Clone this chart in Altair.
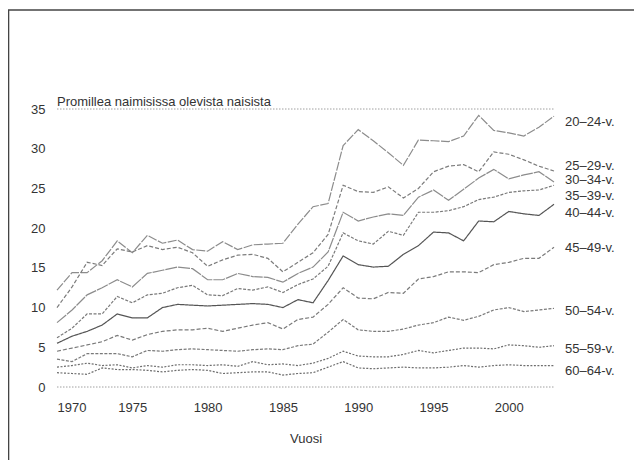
import altair as alt
import pandas as pd

FONT = "Liberation Sans"
TEXT = "#333333"

years = list(range(1970, 2004))

series_names = ["20–24-v.", "25–29-v.", "30–34-v.", "35–39-v.", "40–44-v.",
                "45–49-v.", "50–54-v.", "55–59-v.", "60–64-v."]

s20 = [12.2, 14.4, 14.4, 15.9, 18.4, 16.9, 19.1, 18.1, 18.5, 17.3, 17.1, 18.3, 17.3, 17.9, 18.0, 18.1, 20.5, 22.7, 23.1,
       30.4, 32.4, 31.0, 29.5, 27.9, 31.1, 31.0, 30.9, 31.6, 34.2, 32.3, 32.0, 31.6, 32.7, 34.1]
s25 = [10.0, 12.6, 15.7, 15.3, 17.4, 17.0, 17.8, 17.3, 17.6, 16.9, 15.2, 16.0, 16.6, 16.7, 16.2, 14.5, 15.7, 16.9, 19.2,
       25.4, 24.6, 24.5, 25.2, 23.8, 25.0, 27.1, 27.8, 28.0, 27.1, 29.6, 29.3, 28.6, 27.8, 27.2]
s30 = [8.1, 9.7, 11.6, 12.5, 13.5, 12.6, 14.3, 14.7, 15.1, 14.9, 13.5, 13.5, 14.3, 13.9, 13.8, 13.2, 14.3, 15.1, 17.0,
       22.0, 20.9, 21.4, 21.8, 21.6, 23.9, 24.8, 23.5, 24.9, 26.3, 27.4, 26.2, 26.7, 27.1, 25.8]
s35 = [6.2, 7.4, 9.2, 9.2, 11.4, 10.6, 11.6, 11.8, 12.5, 12.8, 11.6, 11.5, 12.4, 12.2, 12.6, 11.9, 12.9, 13.6, 15.2,
       19.4, 18.4, 18.0, 19.6, 19.1, 22.0, 22.0, 22.2, 22.7, 23.6, 23.9, 24.5, 24.7, 24.8, 25.4]
s40 = [5.5, 6.4, 7.0, 7.8, 9.2, 8.7, 8.7, 10.0, 10.4, 10.3, 10.2, 10.3, 10.4, 10.5, 10.4, 10.0, 11.0, 10.6, 13.4,
       16.5, 15.4, 15.1, 15.2, 16.7, 17.8, 19.5, 19.4, 18.4, 20.9, 20.8, 22.1, 21.8, 21.6, 23.0]
s45 = [4.5, 4.9, 5.3, 5.7, 6.5, 5.9, 6.6, 7.0, 7.2, 7.2, 7.4, 7.0, 7.4, 7.8, 8.1, 7.3, 8.5, 8.8, 10.4,
       12.5, 11.2, 11.1, 11.9, 11.8, 13.6, 13.9, 14.5, 14.5, 14.4, 15.4, 15.7, 16.2, 16.2, 17.6]
s50 = [3.5, 3.2, 4.2, 4.2, 4.2, 3.8, 4.6, 4.5, 4.7, 4.8, 4.7, 4.6, 4.5, 4.7, 4.8, 4.7, 5.2, 5.4, 6.9,
       8.5, 7.2, 7.0, 7.0, 7.3, 7.8, 8.1, 8.8, 8.4, 8.9, 9.7, 10.0, 9.5, 9.7, 9.9]
s55 = [2.5, 2.7, 3.0, 2.7, 2.8, 2.4, 2.7, 2.5, 2.8, 2.8, 2.7, 2.8, 2.6, 3.2, 2.8, 2.9, 2.7, 3.0, 3.6,
       4.5, 3.9, 3.8, 3.8, 4.1, 4.6, 4.3, 4.6, 4.9, 4.9, 4.8, 5.3, 5.2, 5.0, 5.2]
s60 = [1.8, 1.7, 1.6, 2.4, 2.2, 2.2, 2.1, 1.9, 2.1, 2.2, 2.1, 1.7, 1.8, 1.9, 1.9, 1.5, 1.7, 1.8, 2.5,
       3.2, 2.4, 2.3, 2.4, 2.5, 2.4, 2.4, 2.5, 2.7, 2.5, 2.7, 2.8, 2.7, 2.7, 2.7]

all_series = [s20, s25, s30, s35, s40, s45, s50, s55, s60]

# where the end labels sit (value units)
label_at = [33.4, 27.8, 26.1, 24.0, 21.9, 17.5, 9.6, 4.8, 2.05]

x_ticks = [1970, 1975, 1980, 1985, 1990, 1995, 2000]
y_ticks = [0, 5, 10, 15, 20, 25, 30, 35]
grid_at = [0, 35]
y_title = "Promillea naimisissa olevista naisista"
x_title = "Vuosi"

line_colors = ["#8c8c8c", "#7c7c7c", "#8c8c8c", "#7a7a7a", "#555555",
               "#7a7a7a", "#7a7a7a", "#6e6e6e", "#6e6e6e"]
line_dashes = [[9, 1.5], [4, 2], [12, 1], [3, 1.5], [1, 0],
               [4, 2], [3, 1.5], [2, 1.5], [2, 1.5]]

rows = []
for name, vals in zip(series_names, all_series):
    for y, v in zip(years, vals):
        rows.append({"year": y, "value": v, "series": name})
df = pd.DataFrame(rows)

lab_df = pd.DataFrame({"series": series_names, "value": label_at, "year": [years[-1]] * len(series_names)})
grid_rows = []
for g in grid_at:
    for yr in (years[0], years[-1]):
        grid_rows.append({"g": g, "year": yr, "value": g})
grid_df = pd.DataFrame(grid_rows)

xscale = alt.Scale(domain=[years[0], years[-1]], nice=False, zero=False)
yscale = alt.Scale(domain=[0, 35], nice=False)

x_axis = alt.Axis(values=x_ticks, format="d", title=x_title, domain=False, ticks=False, grid=False,
                  labelFont=FONT, labelFontSize=13, labelColor=TEXT, labelPadding=14,
                  labelOverlap=False,
                  titleFont=FONT, titleFontSize=13, titleFontWeight="normal", titleColor=TEXT,
                  titlePadding=18)
y_axis = alt.Axis(values=y_ticks, title=None, domain=False, ticks=False, grid=False,
                  labelOverlap=False, labelFlush=False,
                  labelFont=FONT, labelFontSize=13, labelColor=TEXT, labelPadding=12)

lines = alt.Chart(df).mark_line(strokeWidth=1.2).encode(
    x=alt.X("year:Q", scale=xscale, axis=x_axis),
    y=alt.Y("value:Q", scale=yscale, axis=y_axis),
    color=alt.Color("series:N", scale=alt.Scale(domain=series_names, range=line_colors), legend=None),
    strokeDash=alt.StrokeDash("series:N", scale=alt.Scale(domain=series_names, range=line_dashes), legend=None),
    detail="series:N",
)

grid = alt.Chart(grid_df).mark_line(color="#a0a0a0", strokeWidth=1, strokeDash=[1.5, 1.5]).encode(
    x=alt.X("year:Q", scale=xscale, axis=x_axis),
    y=alt.Y("value:Q", scale=yscale, axis=y_axis),
    detail="g:N",
)

labels = alt.Chart(lab_df).mark_text(align="left", baseline="middle", dx=11, font=FONT, fontSize=13,
                                     color=TEXT).encode(
    x=alt.X("year:Q", scale=xscale, axis=x_axis),
    y=alt.Y("value:Q", scale=yscale, axis=y_axis),
    text="series:N",
)

ytitle = alt.Chart(pd.DataFrame({"t": [y_title]})).mark_text(
    align="left", baseline="middle", font=FONT, fontSize=13, color=TEXT).encode(
    text="t:N", x=alt.value(0), y=alt.value(-7))

frame_left = alt.Chart(pd.DataFrame({"t": [0]})).mark_rule(color="#444444", strokeWidth=1.6).encode(
    x=alt.value(-48.5), y=alt.value(-99), y2=alt.value(370))
frame_top = alt.Chart(pd.DataFrame({"t": [0]})).mark_rule(color="#444444", strokeWidth=1.6).encode(
    x=alt.value(-49), x2=alt.value(590), y=alt.value(-99))

chart = alt.layer(grid, lines, labels, ytitle, frame_left, frame_top).properties(
    width=497, height=278,
    background="white",
    autosize=alt.AutoSizeParams(type="none"),
    padding={"left": 49, "top": 101, "right": 80, "bottom": 73},
).configure_view(strokeWidth=0)

chart.save("out.html", embed_options={"renderer": "svg", "actions": False})
